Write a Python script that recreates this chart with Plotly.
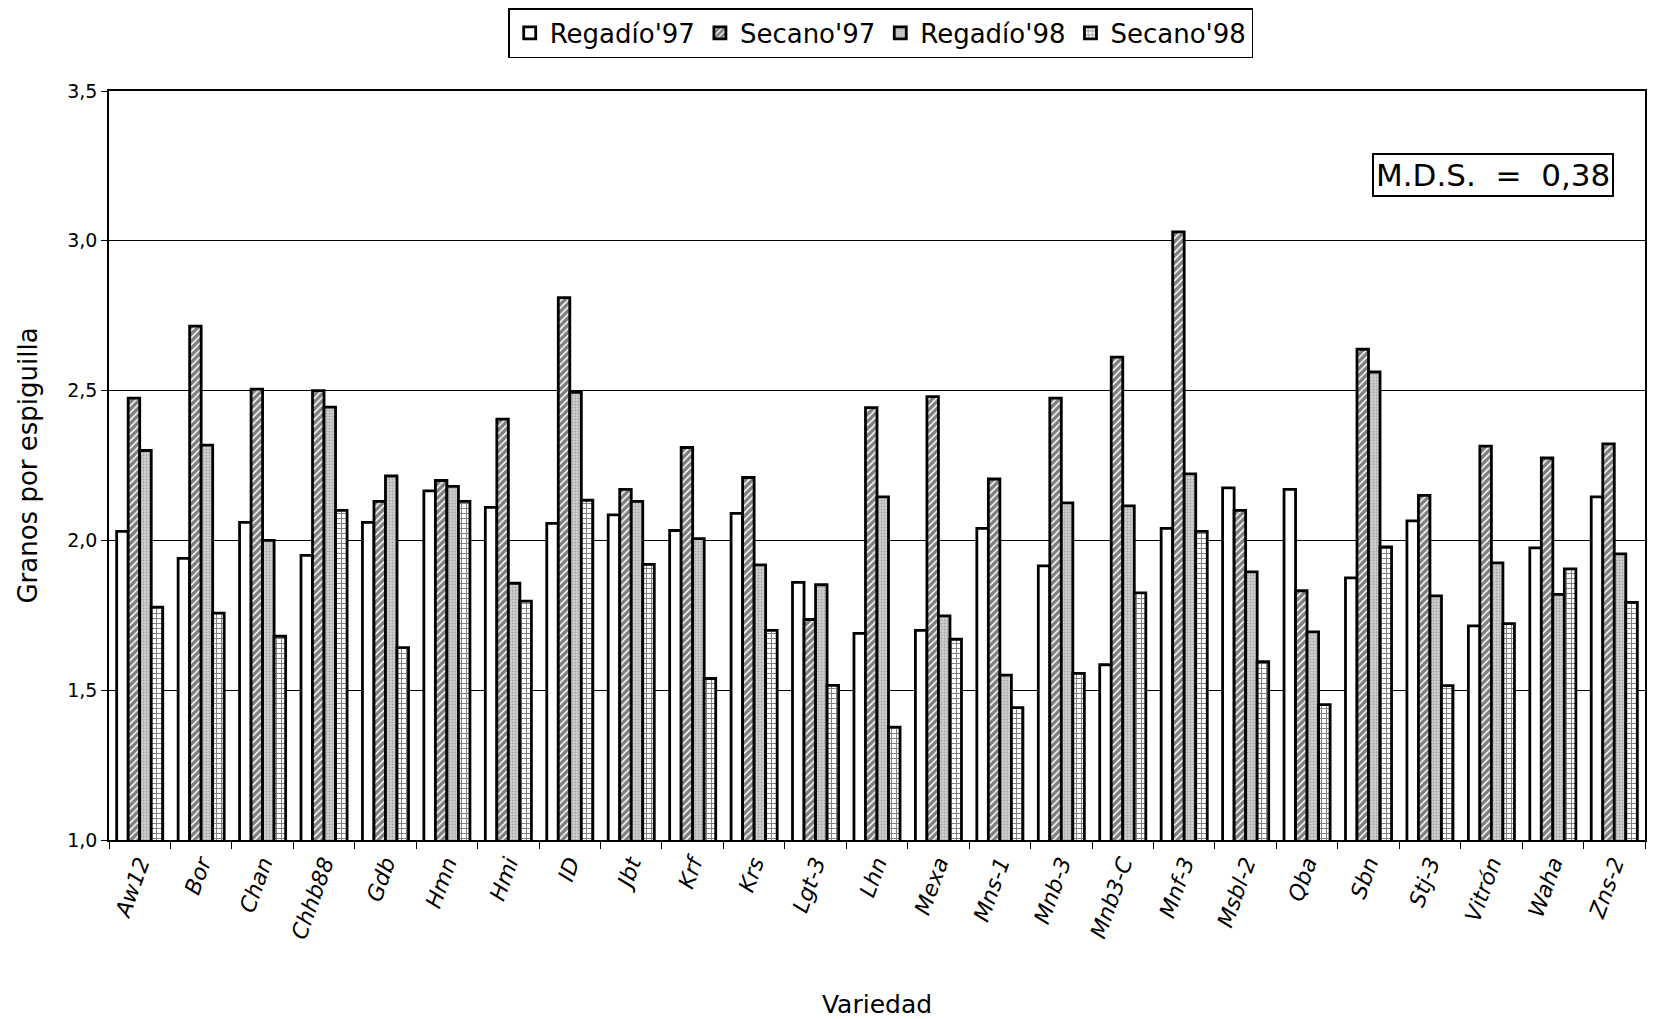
import plotly.graph_objects as go

variedades = ["Aw12", "Bor", "Chan", "Chhb88", "Gdb", "Hmn", "Hmi", "ID", "Jbt", "Krf",
              "Krs", "Lgt-3", "Lhn", "Mexa", "Mns-1", "Mnb-3", "Mnb3-C", "Mnf-3", "Msbl-2",
              "Qba", "Sbn", "Stj-3", "Vitrón", "Waha", "Zns-2"]

regadio97 = [2.03, 1.94, 2.06, 1.95, 2.06, 2.165, 2.11, 2.057, 2.085, 2.033,
             2.09, 1.86, 1.69, 1.70, 2.04, 1.915, 1.585, 2.04, 2.175,
             2.17, 1.875, 2.065, 1.715, 1.975, 2.145]
secano97 = [2.475, 2.715, 2.505, 2.50, 2.13, 2.20, 2.405, 2.81, 2.17, 2.31,
            2.21, 1.736, 2.443, 2.48, 2.205, 2.475, 2.612, 3.03, 2.10,
            1.832, 2.638, 2.15, 2.315, 2.275, 2.322]
regadio98 = [2.30, 2.318, 2.0, 2.445, 2.215, 2.18, 1.857, 2.494, 2.13, 2.006,
             1.918, 1.852, 2.145, 1.748, 1.55, 2.125, 2.115, 2.222, 1.895,
             1.695, 2.562, 1.815, 1.925, 1.82, 1.955]
secano98 = [1.777, 1.757, 1.68, 2.10, 1.642, 2.13, 1.797, 2.134, 1.92, 1.539,
            1.70, 1.516, 1.377, 1.67, 1.442, 1.556, 1.825, 2.03, 1.595,
            1.452, 1.978, 1.515, 1.722, 1.905, 1.793]

series_names = ["Regadío'97", "Secano'97", "Regadío'98", "Secano'98"]
y_ticks = [1.0, 1.5, 2.0, 2.5, 3.0, 3.5]

styles = [
    dict(color="white", pattern=dict(shape="")),
    dict(color="white", pattern=dict(shape="/", fgcolor="black", bgcolor="white",
                                     size=5, solidity=0.7, fillmode="overlay")),
    dict(color="#c4c4c4", pattern=dict(shape=".", fgcolor="#7a7a7a", bgcolor="#cfcfcf",
                                       size=3, solidity=0.3, fillmode="overlay")),
    dict(color="white", pattern=dict(shape="+", fgcolor="black", bgcolor="white",
                                     size=5, solidity=0.35, fillmode="overlay")),
]

fig = go.Figure()
for name, vals, st in zip(series_names, [regadio97, secano97, regadio98, secano98], styles):
    fig.add_trace(go.Bar(
        x=variedades, y=vals, name=name,
        marker=dict(color=st["color"], pattern=st["pattern"],
                    line=dict(color="black", width=2.8)),
    ))

fig.add_annotation(
    xref="paper", yref="paper", x=0.98, y=0.888, xanchor="right", yanchor="middle",
    text="M.D.S.&nbsp;&nbsp;=&nbsp;&nbsp;0,38", showarrow=False,
    font=dict(family="DejaVu Sans", size=31, color="black"),
    bordercolor="black", borderwidth=2, borderpad=2, bgcolor="white",
)

fig.update_layout(
    width=1656, height=1019,
    paper_bgcolor="white", plot_bgcolor="white",
    margin=dict(l=101, r=19, t=83, b=187, autoexpand=False),
    barmode="group", bargap=0.25, bargroupgap=0.0,
    separators=",.",
    font=dict(family="DejaVu Sans", color="black"),
    legend=dict(orientation="h", x=0.527, xanchor="center", xref="container",
                y=1.0, yanchor="top", yref="container",
                bordercolor="black", borderwidth=1.5, bgcolor="white",
                font=dict(family="DejaVu Sans", size=26, color="black"),
                itemwidth=30, traceorder="normal", tracegroupgap=0),
    showlegend=True,
)

fig.update_xaxes(
    showline=True, linecolor="black", linewidth=1.5, mirror=True,
    ticks="outside", tickson="boundaries", ticklen=7, tickcolor="black",
    tickangle=-70, tickfont=dict(family="DejaVu Sans", size=22, color="black", style="italic"),
    title=dict(text="Variedad", font=dict(family="DejaVu Sans", size=25, color="black"), standoff=54),
    showgrid=False,
)
fig.update_yaxes(
    range=[1.0, 3.5], tickvals=y_ticks, tickformat=".1f",
    showline=True, linecolor="black", linewidth=1.5, mirror=True,
    ticks="outside", ticklen=6, tickcolor="black",
    tickfont=dict(family="DejaVu Sans", size=19, color="black"),
    showgrid=True, gridcolor="black", gridwidth=1,
    title=dict(text="Granos por espiguilla", font=dict(family="DejaVu Sans", size=26, color="black"), standoff=22),
)

fig.write_html("out.html")
